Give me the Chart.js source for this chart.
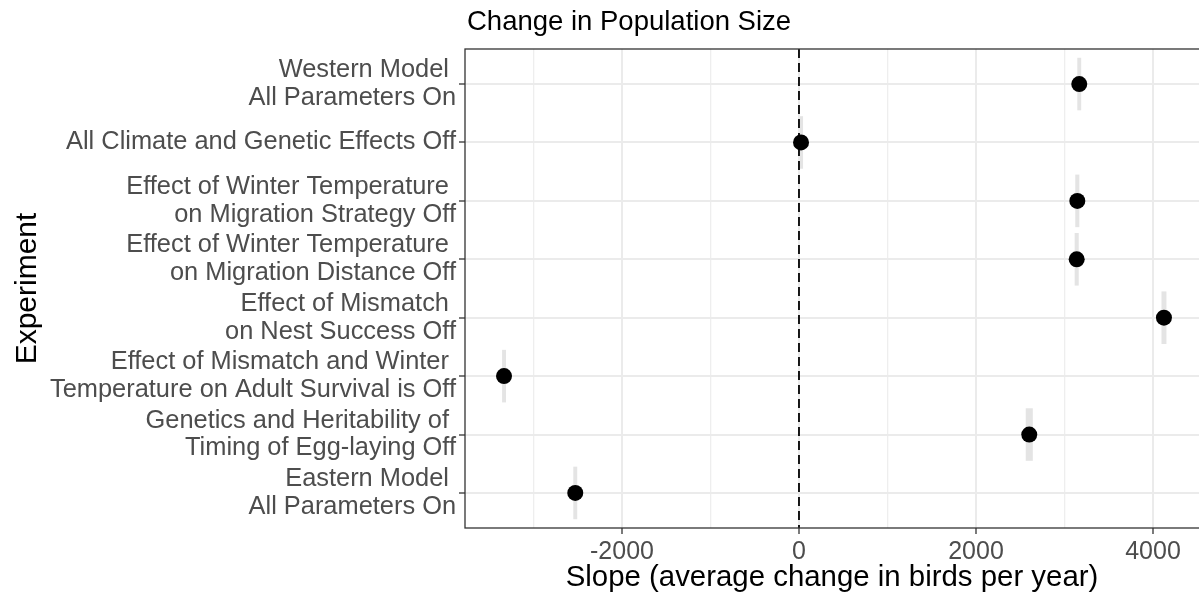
<!DOCTYPE html>
<html>
<head>
<meta charset="utf-8">
<script src="https://cdn.jsdelivr.net/npm/chart.js@4.4.1/dist/chart.umd.min.js"></script>
<style>
  html, body { margin: 0; padding: 0; background: #fff; }
  #wrap { width: 1199px; height: 594px; }
</style>
</head>
<body>
<div id="wrap"><canvas id="chart" width="1199" height="594"></canvas></div>
<script>
// experiments, top to bottom (trailing spaces kept like the original labels)
const experiments = [
    ['Western Model ', 'All Parameters On'],
    'All Climate and Genetic Effects Off',
    ['Effect of Winter Temperature ', 'on Migration Strategy Off'],
    ['Effect of Winter Temperature ', 'on Migration Distance Off'],
    ['Effect of Mismatch ', 'on Nest Success Off'],
    ['Effect of Mismatch and Winter ', 'Temperature on Adult Survival is Off'],
    ['Genetics and Heritability of ', 'Timing of Egg-laying Off'],
    ['Eastern Model ', 'All Parameters On']
];
// median slope per experiment
const slopes = [3167, 23, 3145, 3138, 4124, -3333, 2602, -2528];
// spread of the runs (grey boxes)
const slopeLow = [3145, 0, 3122, 3115, 4096, -3355, 2562, -2550];
const slopeHigh = [3189, 46, 3168, 3161, 4152, -3311, 2642, -2506];

const majorTicks = [-2000, 0, 2000, 4000];
const minorTicks = [-3000, -1000, 1000, 3000];
const xMin = -3774;
const xMax = 4520;
const zeroLine = 0;

const FONT = "'Liberation Sans', Arial, Helvetica, sans-serif";

const isMinor = v => minorTicks.includes(v);

const titlePlugin = {
    id: 'plotTitle',
    afterDraw(chart) {
        const {ctx, chartArea} = chart;
        ctx.save();
        ctx.font = '27.5px ' + FONT;
        ctx.fillStyle = '#000';
        ctx.textBaseline = 'middle';
        ctx.textAlign = 'left';
        ctx.fillText('Change in Population Size', chartArea.left + 2, 22);
        // panel border (right side runs off the picture)
        ctx.strokeStyle = '#333333';
        ctx.lineWidth = 1.3;
        ctx.strokeRect(chartArea.left, chartArea.top, chartArea.right - chartArea.left + 5, chartArea.bottom - chartArea.top);
        ctx.restore();
    }
};

const ctx = document.getElementById('chart').getContext('2d');
new Chart(ctx, {
    type: 'scatter',
    data: {
        datasets: [
            {
                type: 'scatter',
                data: slopes.map((s, i) => ({x: s, y: i})),
                pointRadius: 8,
                pointHoverRadius: 8,
                backgroundColor: '#000',
                borderWidth: 0,
                order: 0
            },
            {
                type: 'line',
                data: [{x: zeroLine, y: -0.6}, {x: zeroLine, y: 7.6}],
                borderColor: '#000',
                borderWidth: 1.8,
                borderDash: [9, 5],
                pointRadius: 0,
                fill: false,
                order: 1
            },
            {
                type: 'bar',
                indexAxis: 'y',
                data: slopes.map((s, i) => ({x: [slopeLow[i], slopeHigh[i]], y: i})),
                backgroundColor: '#e4e4e4',
                borderWidth: 0,
                barPercentage: 1,
                categoryPercentage: 0.9,
                order: 2
            }
        ]
    },
    options: {
        responsive: false,
        animation: false,
        devicePixelRatio: 1,
        layout: { autoPadding: false, padding: { top: 49, left: 0, right: 0, bottom: 0 } },
        plugins: {
            legend: { display: false },
            tooltip: { enabled: false }
        },
        scales: {
            x: {
                type: 'linear',
                min: xMin,
                max: xMax,
                offset: false,
                afterBuildTicks: scale => {
                    scale.ticks = [...minorTicks, ...majorTicks].sort((a, b) => a - b).map(v => ({value: v}));
                },
                afterFit: scale => { scale.height = 66; },
                grid: {
                    offset: false,
                    color: c => isMinor(c.tick && c.tick.value) ? '#eeeeee' : '#ebebeb',
                    lineWidth: c => isMinor(c.tick && c.tick.value) ? 1.3 : 2,
                    tickColor: c => isMinor(c.tick && c.tick.value) ? 'rgba(0,0,0,0)' : '#333333',
                    tickWidth: 1.3,
                    tickLength: 6
                },
                border: { display: false },
                ticks: {
                    autoSkip: false,
                    maxRotation: 0,
                    padding: 3,
                    color: '#4d4d4d',
                    font: { family: FONT, size: 25 },
                    callback: v => isMinor(v) ? '' : String(v)
                },
                title: {
                    display: true,
                    text: 'Slope (average change in birds per year)',
                    color: '#000',
                    font: { family: FONT, size: 29.4 },
                    padding: { top: 0, bottom: -2 }
                }
            },
            y: {
                type: 'linear',
                min: -0.6,
                max: 7.6,
                reverse: true,
                offset: false,
                afterBuildTicks: scale => {
                    scale.ticks = experiments.map((_, i) => ({value: i}));
                },
                afterFit: scale => { scale.width = 465; },
                grid: {
                    offset: false,
                    color: '#ebebeb',
                    lineWidth: 2,
                    tickColor: '#333333',
                    tickWidth: 1.3,
                    tickLength: 6
                },
                border: { display: false },
                ticks: {
                    autoSkip: false,
                    padding: 3,
                    color: '#4d4d4d',
                    font: { family: FONT, size: 25.4, lineHeight: 1.09 },
                    callback: v => experiments[v]
                },
                title: {
                    display: true,
                    text: 'Experiment',
                    color: '#000',
                    font: { family: FONT, size: 30 },
                    padding: { top: 10, bottom: 0 }
                }
            }
        }
    },
    plugins: [titlePlugin]
});
</script>
</body>
</html>
